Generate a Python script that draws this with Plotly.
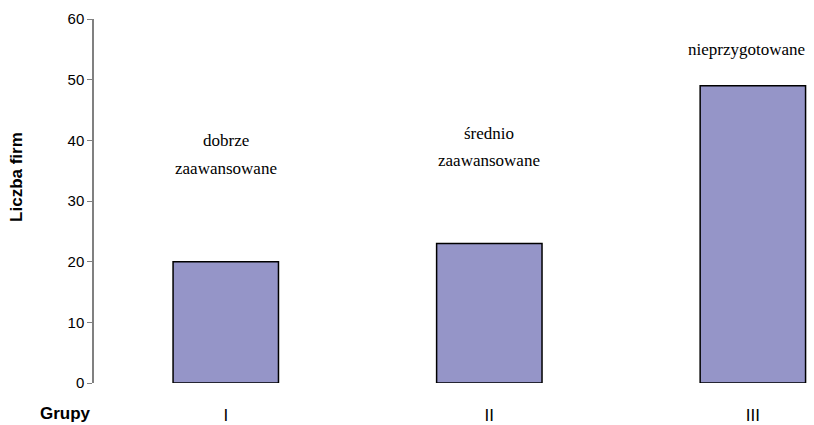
import plotly.graph_objects as go

categories = ["I", "II", "III"]
values = [20, 23, 49]
group_names = [["dobrze", "zaawansowane"], ["średnio", "zaawansowane"], ["nieprzygotowane"]]
label_y = [[40.0, 35.4], [41.2, 36.6], [54.9]]
yticks = [0, 10, 20, 30, 40, 50, 60]

fig = go.Figure()
fig.add_trace(go.Bar(
    x=list(range(len(categories))), y=values, width=0.4,
    marker=dict(color="#9595C8", line=dict(color="black", width=1.5)),
    showlegend=False,
))

serif = "Liberation Serif, Times New Roman, serif"
sans = "Liberation Sans, Arial, sans-serif"
ann = []
for i, (lines, ys) in enumerate(zip(group_names, label_y)):
    for t, yy in zip(lines, ys):
        ann.append(dict(x=i if i < 2 else 1.975, y=yy, xref="x", yref="y", text=t, showarrow=False,
                        font=dict(family=serif, size=17, color="black"),
                        xanchor="center", yanchor="middle"))
ann.append(dict(x=-0.039, y=-0.085, xref="paper", yref="paper", text="<b>Grupy</b>", showarrow=False,
                font=dict(family=sans, size=17, color="black"),
                xanchor="center", yanchor="middle"))
ann.append(dict(x=-0.107, y=0.566, xref="paper", yref="paper", text="<b>Liczba firm</b>", showarrow=False,
                textangle=-90,
                font=dict(family=sans, size=17, color="black"),
                xanchor="center", yanchor="middle"))

fig.update_layout(
    width=814, height=425,
    margin=dict(l=94, r=0, t=19, b=42),
    plot_bgcolor="white", paper_bgcolor="white",
    font=dict(family=sans, size=15, color="black"),
    annotations=ann,
    xaxis=dict(range=[-0.5, 2.232], tickvals=list(range(len(categories))), ticktext=categories,
               showline=False, showgrid=False, zeroline=False, ticks="", ticklabelstandoff=20,
               tickfont=dict(size=17, color="black")),
    yaxis=dict(range=[0, 60], tickvals=yticks, showline=True, linecolor="#808080", linewidth=1.5,
               ticks="outside", ticklen=5, tickcolor="#808080", showgrid=False, zeroline=False,
               tickfont=dict(size=15, color="black"), ticklabelstandoff=0),
)
fig.write_html("out.html")
